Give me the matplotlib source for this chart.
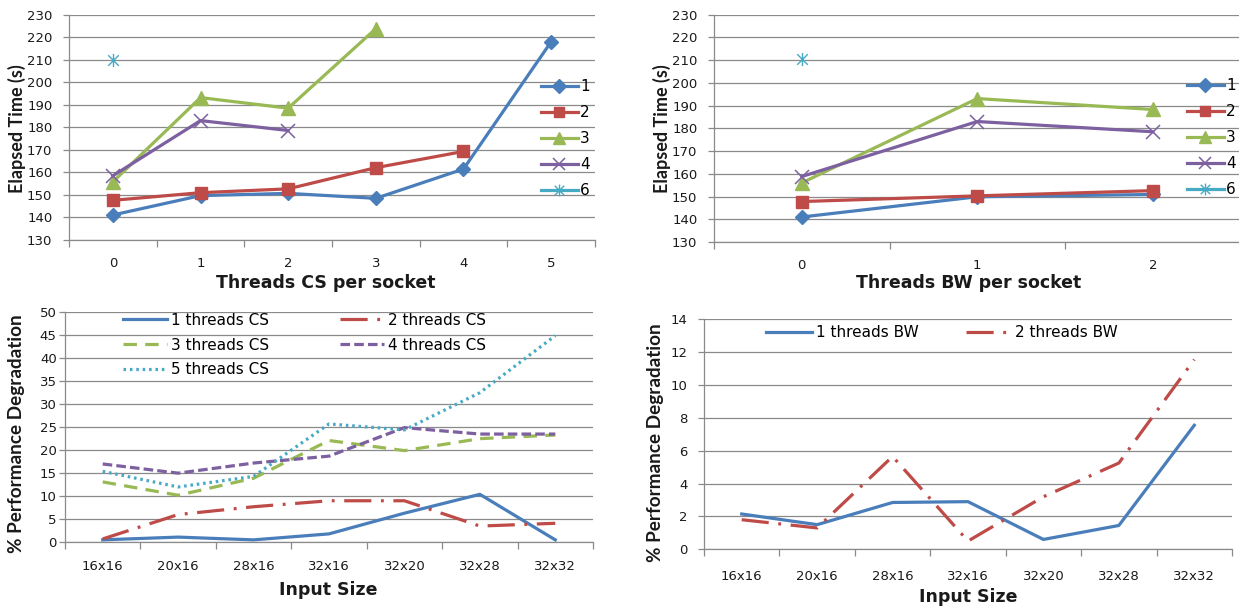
import numpy as np
import matplotlib
matplotlib.use("Agg")
import matplotlib.pyplot as plt
from matplotlib.path import Path

# ---------------- data ----------------
cs_threads = ["0", "1", "2", "3", "4", "5"]
bw_threads = ["0", "1", "2"]
series_names = ["1", "2", "3", "4", "6"]

# Elapsed time (s) vs. CS threads per socket
cs_t1 = [141.1, 149.7, 150.7, 148.5, 161.5, 218.0]
cs_t2 = [147.6, 151.0, 152.7, 162.1, 169.3]
cs_t3 = [155.8, 193.2, 188.5, 223.8]
cs_t4 = [158.5, 183.0, 178.6]
cs_t6 = [210.0]

# Elapsed time (s) vs. BW threads per socket
bw_t1 = [141.0, 149.9, 150.9]
bw_t2 = [147.8, 150.3, 152.6]
bw_t3 = [156.0, 193.1, 188.3]
bw_t4 = [158.8, 183.0, 178.5]
bw_t6 = [210.3]

input_sizes = ["16x16", "20x16", "28x16", "32x16", "32x20", "32x28", "32x32"]

# % performance degradation with CS threads
deg_cs1 = [0.4, 1.0, 0.4, 1.7, 6.2, 10.3, 0.4]
deg_cs2 = [0.6, 5.9, 7.6, 8.9, 8.9, 3.4, 4.0]
deg_cs3 = [13.0, 10.1, 13.8, 22.0, 19.8, 22.4, 23.2]
deg_cs4 = [16.9, 14.9, 17.1, 18.6, 24.8, 23.4, 23.4]
deg_cs5 = [15.3, 11.9, 14.2, 25.6, 24.3, 32.4, 44.8]

# % performance degradation with BW threads
deg_bw1 = [2.15, 1.5, 2.85, 2.9, 0.6, 1.45, 7.55]
deg_bw2 = [1.8, 1.3, 5.65, 0.5, 3.2, 5.25, 11.55]

# ---------------- style ----------------
W, H = 1239, 610
BLUE, RED, GREEN, PURPLE, CYAN = "#4A7EBB", "#BE4B48", "#98B954", "#7D60A0", "#46AAC5"
GRID = "#8A8A8A"
TXT = "#1A1A1A"
FONT = "DejaVu Sans"
ROT_FONT = "Lato"

plt.rcParams["font.family"] = FONT

fig = plt.figure(figsize=(W / 100, H / 100), dpi=100)
fig.patch.set_facecolor("white")


def px_rect(left, top, right, bottom):
    return [left / W, 1 - bottom / H, (right - left) / W, (bottom - top) / H]


def px(x, y):
    return (x / W, 1 - y / H)


# Excel-like asterisk: a vertical stroke plus an X
star = Path([(0, -1), (0, 1), (-0.8, -0.8), (0.8, 0.8), (-0.8, 0.8), (0.8, -0.8)],
            [Path.MOVETO, Path.LINETO, Path.MOVETO, Path.LINETO, Path.MOVETO, Path.LINETO])


def style_axes(ax, cats, yticks, xpad, ypad, fs=9.5):
    n = len(cats)
    ax.set_xlim(-0.5, n - 0.5)
    ax.set_ylim(yticks[0], yticks[-1])
    ax.set_yticks(yticks)
    ax.yaxis.grid(True, color=GRID, lw=0.9)
    ax.set_axisbelow(True)
    for s in ("top", "right"):
        ax.spines[s].set_visible(False)
    for s in ("left", "bottom"):
        ax.spines[s].set_color(GRID)
        ax.spines[s].set_linewidth(0.9)
    ax.set_xticks(range(n))
    ax.set_xticklabels(cats)
    ax.set_xticks(np.arange(-0.5, n), minor=True)
    ax.tick_params(axis="x", which="major", length=0, pad=xpad, labelsize=fs, labelcolor=TXT)
    ax.tick_params(axis="x", which="minor", length=5, width=0.9, color=GRID)
    ax.tick_params(axis="y", length=4, width=0.9, color=GRID, pad=ypad, labelsize=fs, labelcolor=TXT)


def time_panel(ax, cats, s1, s2, s3, s4, s6):
    lw = 2.3
    x = np.arange(len(cats))
    ax.plot(x[:len(s1)], s1, color=BLUE, lw=lw, marker="D", ms=7.5, label=series_names[0])
    ax.plot(x[:len(s2)], s2, color=RED, lw=lw, marker="s", ms=8.5, label=series_names[1])
    ax.plot(x[:len(s3)], s3, color=GREEN, lw=lw, marker="^", ms=9.5, label=series_names[2])
    ax.plot(x[:len(s4)], s4, color=PURPLE, lw=lw, marker="x", ms=10, mew=1.1, label=series_names[3])
    ax.plot(x[:len(s6)], s6, color=CYAN, lw=lw, marker=star, ms=9.5, mew=1.0, label=series_names[4])
    style_axes(ax, cats, np.arange(130, 231, 10), xpad=12, ypad=8)


# ---- top left: CS threads ----
ax1 = fig.add_axes(px_rect(69, 14.7, 595, 240))
time_panel(ax1, cs_threads, cs_t1, cs_t2, cs_t3, cs_t4, cs_t6)
ax1.legend(loc="center left", bbox_to_anchor=px(541, 138.5), bbox_transform=fig.transFigure,
           frameon=False, fontsize=11, handlelength=2.4, handletextpad=0.15,
           labelspacing=0.72, borderpad=0, borderaxespad=0, numpoints=1, markerscale=0.9)

# ---- top right: BW threads (extends past the right edge) ----
ax2 = fig.add_axes(px_rect(714, 14.7, 1240.5, 242))
time_panel(ax2, bw_threads, bw_t1, bw_t2, bw_t3, bw_t4, bw_t6)
ax2.legend(loc="center left", bbox_to_anchor=px(1187, 138), bbox_transform=fig.transFigure,
           frameon=False, fontsize=11, handlelength=2.4, handletextpad=0.15,
           labelspacing=0.72, borderpad=0, borderaxespad=0, numpoints=1, markerscale=0.9)

# ---- bottom left: degradation with CS threads ----
ax3 = fig.add_axes(px_rect(65, 311.7, 593, 541.7))
x7 = np.arange(len(input_sizes))
lw = 2.3
dashdot = (0, (8.5, 3.0, 0.9, 3.0))
l1, = ax3.plot(x7, deg_cs1, color=BLUE, lw=lw, label="1 threads CS")
l2, = ax3.plot(x7, deg_cs2, color=RED, lw=lw, ls=dashdot, label="2 threads CS")
l3, = ax3.plot(x7, deg_cs3, color=GREEN, lw=lw, ls=(0, (4.2, 2.6)), label="3 threads CS")
l4, = ax3.plot(x7, deg_cs4, color=PURPLE, lw=lw, ls=(0, (3.0, 1.3)), label="4 threads CS")
l5, = ax3.plot(x7, deg_cs5, color=CYAN, lw=lw, ls=(0, (0.8, 1.2)), label="5 threads CS")
style_axes(ax3, input_sizes, np.arange(0, 51, 5), xpad=13, ypad=2)
ax3.legend(handles=[l1, l3, l5, l2, l4], loc="center left", bbox_to_anchor=px(123, 345),
           bbox_transform=fig.transFigure, ncol=2, frameon=False, fontsize=11,
           handlelength=2.9, handletextpad=0.25, labelspacing=0.65, columnspacing=4.6,
           borderpad=0, borderaxespad=0)

# ---- bottom right: degradation with BW threads ----
ax4 = fig.add_axes(px_rect(704, 319.3, 1232, 549.3))
m1, = ax4.plot(x7, deg_bw1, color=BLUE, lw=lw, label="1 threads BW")
m2, = ax4.plot(x7, deg_bw2, color=RED, lw=lw, ls=dashdot, label="2 threads BW")
style_axes(ax4, input_sizes, np.arange(0, 15, 2), xpad=15, ypad=8)
ax4.legend(handles=[m1, m2], loc="center left", bbox_to_anchor=px(766, 332.7),
           bbox_transform=fig.transFigure, ncol=2, frameon=False, fontsize=11,
           handlelength=3.0, handletextpad=0.25, columnspacing=3.1,
           borderpad=0, borderaxespad=0)

# ---- axis titles ----
fig.text(*px(326, 283), "Threads CS per socket", ha="center", va="center",
         fontsize=12.5, fontweight="bold", color=TXT)
fig.text(*px(969, 283), "Threads BW per socket", ha="center", va="center",
         fontsize=12.5, fontweight="bold", color=TXT)
fig.text(*px(328, 590), "Input Size", ha="center", va="center",
         fontsize=12.5, fontweight="bold", color=TXT)
fig.text(*px(968, 597), "Input Size", ha="center", va="center",
         fontsize=12.5, fontweight="bold", color=TXT)

fig.text(*px(16.5, 128.5), "Elapsed Time (s)", rotation=90, ha="center", va="center",
         fontsize=13, fontweight="bold", color=TXT, family=ROT_FONT)
fig.text(*px(662, 129), "Elapsed Time (s)", rotation=90, ha="center", va="center",
         fontsize=13, fontweight="bold", color=TXT, family=ROT_FONT)
fig.text(*px(17, 434), "% Performance Degradation", rotation=90, ha="center", va="center",
         fontsize=13.6, fontweight="bold", color=TXT, family=ROT_FONT)
fig.text(*px(655, 443), "% Performance Degradation", rotation=90, ha="center", va="center",
         fontsize=13.6, fontweight="bold", color=TXT, family=ROT_FONT)

fig.savefig("out.png", dpi=100, facecolor="white")
